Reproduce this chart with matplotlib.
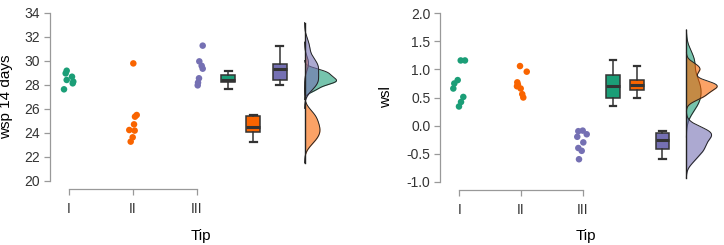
import numpy as np
import matplotlib
matplotlib.use('Agg')
import matplotlib.pyplot as plt

plt.rcParams['font.family'] = ['Liberation Sans', 'DejaVu Sans']
plt.rcParams['axes.unicode_minus'] = False

tips = ['I', 'II', 'III']
colors = ['#1b9e77', '#f96400', '#7570b3']

# wsp 14 days
wsp_I = [29.19, 28.97, 28.69, 28.42, 28.28, 28.14, 27.64]
wsp_II = [29.8, 25.5, 25.36, 24.72, 24.25, 24.2, 23.64, 23.28]
wsp_III = [31.28, 29.97, 29.6, 29.36, 28.56, 28.2, 27.97]
wsp_jit_I = [-0.036, -0.052, 0.047, -0.036, 0.067, 0.058, -0.078]
wsp_jit_II = [0.005, 0.058, 0.031, 0.016, -0.058, 0.026, -0.005, -0.036]
wsp_jit_III = [0.089, 0.036, 0.073, 0.089, 0.031, 0.016, 0.011]

# wsl
wsl_I = [1.16, 1.16, 0.81, 0.75, 0.66, 0.51, 0.42, 0.34]
wsl_II = [1.06, 0.96, 0.77, 0.73, 0.70, 0.66, 0.56, 0.50]
wsl_III = [-0.10, -0.09, -0.155, -0.20, -0.30, -0.40, -0.45, -0.60]
wsl_jit_I = [0.023, 0.092, -0.026, -0.081, -0.097, 0.065, 0.028, -0.005]
wsl_jit_II = [-0.016, 0.093, -0.06, -0.05, -0.065, -0.005, 0.02, 0.037]
wsl_jit_III = [-0.071, 0.0, 0.065, -0.088, 0.01, -0.071, -0.016, -0.06]

box_pos = [3.49, 3.88, 4.29]
dens_base = 4.68


def kde(v):
    v = np.asarray(v, dtype=float)
    n = len(v)
    sd = v.std(ddof=1)
    q75, q25 = np.percentile(v, [75, 25])
    bw = 0.9 * min(sd, (q75 - q25) / 1.34) * n ** -0.2
    grid = np.linspace(v.min() - 3 * bw, v.max() + 3 * bw, 400)
    d = np.exp(-0.5 * ((grid[:, None] - v[None, :]) / bw) ** 2).sum(1)
    d = d / (n * bw * np.sqrt(2 * np.pi))
    return grid, d


def raincloud(ax, groups, jitters, ylabel, yticks, fmt):
    # points
    for i, (vals, jit) in enumerate(zip(groups, jitters)):
        x = np.full(len(vals), i + 1.0) + np.array(jit)
        ax.scatter(x, vals, s=22, color=colors[i], edgecolor='none', zorder=3)

    # boxes
    bp = ax.boxplot(groups, positions=box_pos, widths=0.22, patch_artist=True,
                    showfliers=False, manage_ticks=False,
                    boxprops=dict(edgecolor='#333333', linewidth=1.1),
                    whiskerprops=dict(color='#333333', linewidth=1.1),
                    capprops=dict(color='#333333', linewidth=1.6),
                    medianprops=dict(color='#333333', linewidth=2.2))
    for patch, c in zip(bp['boxes'], colors):
        patch.set_facecolor(c)
    for cap in bp['caps']:
        mid = cap.get_xdata().mean()
        cap.set_xdata([mid - 0.055, mid + 0.055])

    # densities
    dens = [kde(g) for g in groups]
    scale = 0.5 / max(d.max() for _, d in dens)
    lo = min(g.min() for g, _ in dens)
    hi = max(g.max() for g, _ in dens)
    for i, (g, d) in enumerate(dens):
        ax.fill_betweenx(g, dens_base, dens_base + d * scale, color=colors[i],
                         alpha=0.6, linewidth=0, zorder=2)
        ax.plot(dens_base + d * scale, g, color='#222222', lw=0.7, zorder=2)
    ax.plot([dens_base, dens_base], [lo, hi], color='#222222', lw=1.0, zorder=2)

    ax.set_xticks([1, 2, 3])
    ax.set_xticklabels(tips)
    ax.set_yticks(yticks)
    ax.set_yticklabels([fmt.format(t) for t in yticks])
    ax.spines['top'].set_visible(False)
    ax.spines['right'].set_visible(False)
    for s in ['left', 'bottom']:
        ax.spines[s].set_color('#999999')
        ax.spines[s].set_linewidth(0.9)
    ax.spines['bottom'].set_position(('outward', 6))
    ax.spines['bottom'].set_bounds(1, 3)
    ax.spines['left'].set_bounds(yticks[0], yticks[-1])
    ax.tick_params(colors='#999999', labelcolor='#333333', labelsize=10,
                   length=4, width=0.9, pad=3)
    ax.tick_params(axis='x', pad=5)
    ax.set_ylabel(ylabel, fontsize=11)
    ax.set_xlabel('Tip', fontsize=11)


fig = plt.figure(figsize=(7.24, 2.45), dpi=100)

ax1 = fig.add_axes([50 / 724, 64 / 245, 295 / 724, 168 / 245])
raincloud(ax1, [wsp_I, wsp_II, wsp_III], [wsp_jit_I, wsp_jit_II, wsp_jit_III],
          'wsp 14 days', [20, 22, 24, 26, 28, 30, 32, 34], '{:.0f}')
ax1.set_xlim(1 - 19 / 64, 1 + 276 / 64)
ax1.set_ylim(20, 34)
ax1.xaxis.set_label_coords(0.512, -0.286)
ax1.yaxis.set_label_coords(-0.125, 0.5)

ax2 = fig.add_axes([440 / 724, 63.3 / 245, 282 / 724, 168.4 / 245])
raincloud(ax2, [wsl_I, wsl_II, wsl_III], [wsl_jit_I, wsl_jit_II, wsl_jit_III],
          'wsl', [-1.0, -0.5, 0.0, 0.5, 1.0, 1.5, 2.0], '{:.1f}')
ax2.set_xlim(1 - 19.3 / 61.7, 1 + 262.7 / 61.7)
ax2.set_ylim(-1.0, 2.0)
ax2.xaxis.set_label_coords(0.517, -0.281)
ax2.yaxis.set_label_coords(-0.167, 0.5)

fig.savefig('out.png', dpi=100)
